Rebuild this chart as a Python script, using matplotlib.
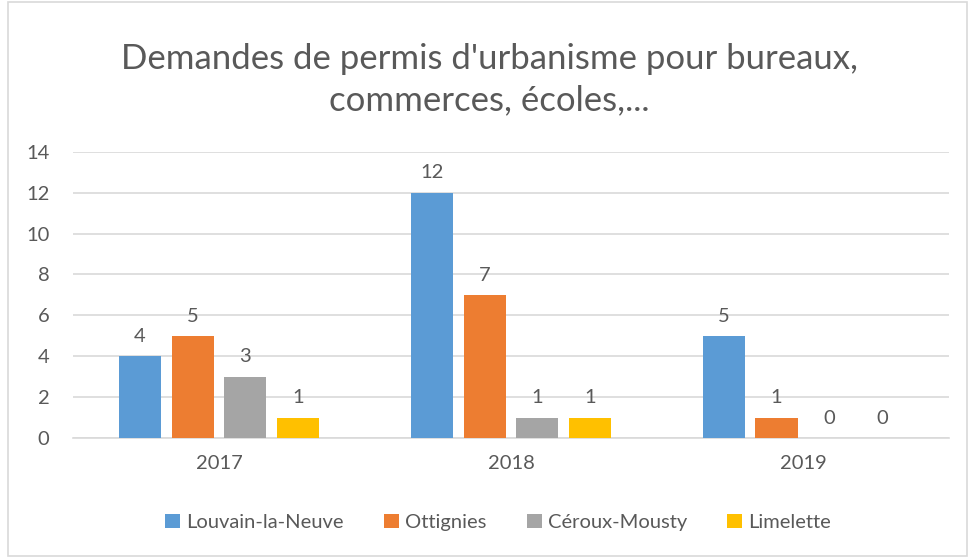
import numpy as np
import matplotlib.pyplot as plt
from matplotlib.patches import Rectangle

plt.rcParams['font.family'] = ['Lato', 'DejaVu Sans']

# Data
years = ['2017', '2018', '2019']
series = ['Louvain-la-Neuve', 'Ottignies', 'Céroux-Mousty', 'Limelette']
louvain = [4, 12, 5]
ottignies = [5, 7, 1]
ceroux = [3, 1, 0]
limelette = [1, 1, 0]
colors = ['#5B9BD5', '#ED7D31', '#A5A5A5', '#FFC000']

text_col = '#595959'
fs = 14.5

fig = plt.figure(figsize=(9.69, 5.58), dpi=100)
ax = fig.add_axes([0.0753, 0.215, 0.904, 0.513])

x = np.arange(len(years))
step = 0.181
width = 0.144
for i, (name, vals) in enumerate(zip(series, [louvain, ottignies, ceroux, limelette])):
    pos = x + (i - 1.5) * step
    bars = ax.bar(pos, vals, width, color=colors[i], label=name, zorder=3)
    for b, v in zip(bars, vals):
        ax.text(b.get_x() + b.get_width() / 2, v + 0.55, str(v),
                ha='center', va='bottom', fontsize=fs, color=text_col)

ax.set_xlim(-0.5, 2.5)
ax.set_ylim(0, 14)
ax.set_yticks(range(0, 15, 2))
ax.set_xticks(x)
ax.set_xticklabels(years)
ax.tick_params(axis='both', length=0, labelsize=fs, labelcolor=text_col)
ax.tick_params(axis='y', pad=17)
ax.tick_params(axis='x', pad=12)
ax.grid(axis='y', color='#D9D9D9', linewidth=1.2, zorder=0)
for s in ['top', 'right', 'left']:
    ax.spines[s].set_visible(False)
ax.spines['bottom'].set_color('#D9D9D9')
ax.spines['bottom'].set_linewidth(1.2)

fig.text(0.505, 0.857, "Demandes de permis d'urbanisme pour bureaux,\ncommerces, écoles,...",
         ha='center', va='center', fontsize=25, color=text_col, linespacing=1.35)

leg = fig.legend(loc='center', bbox_to_anchor=(0.514, 0.064), ncol=4, frameon=False,
                 fontsize=fs, handlelength=0.75, handleheight=0.75, handletextpad=0.3,
                 columnspacing=2.0)
for t in leg.get_texts():
    t.set_color(text_col)

# outer chart border
fig.patches.append(Rectangle((0.008, 0.004), 0.99, 0.992, transform=fig.transFigure,
                             fill=False, edgecolor='#D9D9D9', linewidth=1.2))

fig.savefig('out.png', dpi=100)
